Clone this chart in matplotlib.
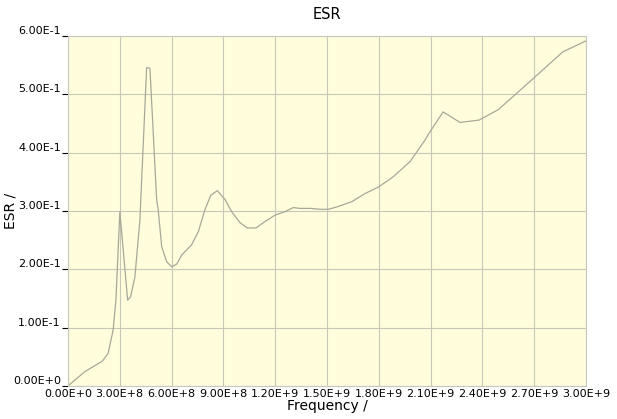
import matplotlib
matplotlib.use("Agg")
import matplotlib.pyplot as plt
from matplotlib.ticker import FuncFormatter

# frequency (Hz) and ESR values
freq = [0.0, 0.098e9, 0.201e9, 0.233e9, 0.262e9, 0.278e9, 0.301e9, 0.346e9,
        0.363e9, 0.388e9, 0.417e9, 0.456e9, 0.475e9, 0.514e9, 0.523e9,
        0.543e9, 0.572e9, 0.601e9, 0.630e9, 0.659e9, 0.716e9, 0.755e9,
        0.793e9, 0.827e9, 0.865e9, 0.909e9, 0.948e9, 0.996e9, 1.039e9,
        1.089e9, 1.141e9, 1.199e9, 1.257e9, 1.305e9, 1.344e9, 1.402e9,
        1.46e9, 1.508e9, 1.556e9, 1.643e9, 1.72e9, 1.797e9, 1.884e9,
        1.981e9, 2.068e9, 2.087e9, 2.172e9, 2.27e9, 2.38e9, 2.492e9,
        2.598e9, 2.70e9, 2.865e9, 3.0e9]
esr = [0.0, 0.0245, 0.043, 0.056, 0.096, 0.147, 0.299, 0.147,
       0.153, 0.187, 0.285, 0.546, 0.545, 0.319, 0.302,
       0.239, 0.213, 0.2045, 0.209, 0.2246, 0.242, 0.2646,
       0.302, 0.327, 0.335, 0.320, 0.299, 0.280, 0.271,
       0.271, 0.282, 0.293, 0.299, 0.306, 0.3045, 0.3046,
       0.303, 0.303, 0.307, 0.316, 0.330, 0.341, 0.359,
       0.385, 0.422, 0.432, 0.470, 0.452, 0.456, 0.474,
       0.502, 0.529, 0.573, 0.592]

xticks = [i * 3e8 for i in range(11)]
yticks = [i * 0.1 for i in range(7)]


def sci(v, pos=None):
    if v == 0:
        return "0.00E+0"
    s = "%.2E" % v
    mant, exp = s.split("E")
    return "%sE%+d" % (mant, int(exp))


fig = plt.figure(figsize=(6.17, 4.19), dpi=100)
ax = fig.add_axes([0.110, 0.0788, 0.840, 0.835])
ax.set_facecolor("#FFFDDC")

ax.plot(freq, esr, color="#A8A898", linewidth=0.9)

ax.set_xlim(0, 3e9)
ax.set_ylim(0, 0.6)
ax.set_xticks(xticks)
ax.set_yticks(yticks)
ax.xaxis.set_major_formatter(FuncFormatter(sci))
ax.yaxis.set_major_formatter(FuncFormatter(sci))
ax.grid(True, color="#C8C8B8", linewidth=0.8)
ax.set_axisbelow(True)

for sp in ax.spines.values():
    sp.set_color("#C8C8C0")
    sp.set_linewidth(0.8)

ax.tick_params(axis="x", length=0, pad=2, labelsize=8, colors="black")
ax.tick_params(axis="y", length=4, pad=1, labelsize=8, colors="black")
for lbl in ax.get_yticklabels():
    lbl.set_verticalalignment("bottom")

ax.set_title("ESR", fontsize=10.5, pad=12)
ax.set_xlabel("Frequency /", fontsize=10, labelpad=0)
ax.set_ylabel("ESR /", fontsize=10)
ax.yaxis.set_label_coords(-0.098, 0.5)

fig.savefig("out.png", dpi=100)
